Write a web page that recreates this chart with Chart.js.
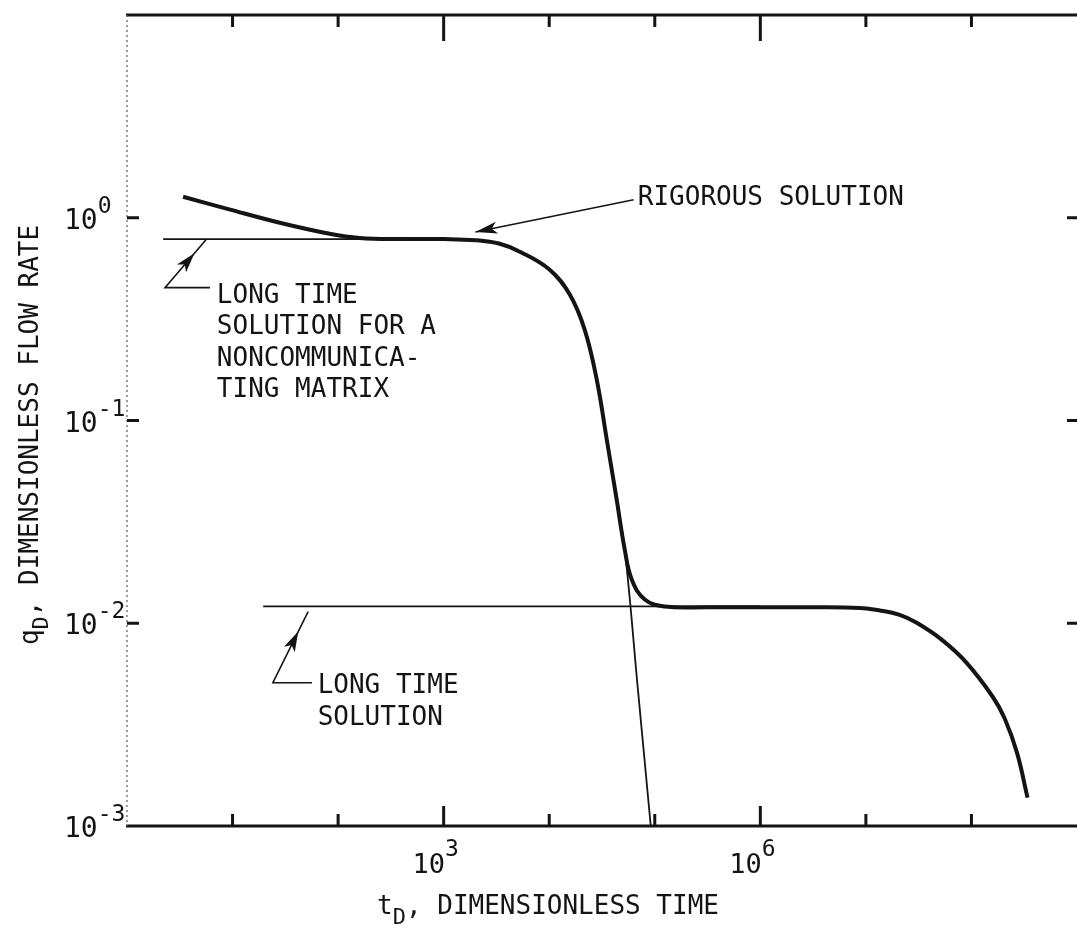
<!DOCTYPE html>
<html>
<head>
<meta charset="utf-8">
<script src="https://cdn.jsdelivr.net/npm/chart.js@4.4.1/dist/chart.umd.min.js"></script>
<style>
  html, body { margin: 0; padding: 0; background: #fff; }
  #wrap { width: 1077px; height: 946px; }
</style>
</head>
<body>
<div id="wrap"><canvas id="flowChart" width="1077" height="946"></canvas></div>
<script>
// rigorous solution, q_D against t_D
var rigorousT = [3.4, 9.3, 28, 83, 160, 400, 1000, 2000, 3400, 5270,
                 1.01e4, 1.57e4, 2.17e4, 2.82e4, 3.51e4, 4.36e4, 5.2e4, 6.06e4, 8.04e4, 1.24e5,
                 3.2e5, 1e6, 3.2e6, 8.73e6, 1.35e7, 2.09e7, 3.03e7, 5.22e7, 9.0e7, 1.59e8, 2.06e8, 2.7e8, 3.4e8];
var rigorousQ = [1.27, 1.10, 0.945, 0.834, 0.795, 0.785, 0.785, 0.775, 0.744, 0.68,
                 0.554, 0.417, 0.28, 0.159, 0.0804, 0.0406, 0.023, 0.0164, 0.0131, 0.0121,
                 0.012, 0.012, 0.012, 0.0119, 0.01157, 0.011, 0.01005, 0.0083, 0.00638, 0.00434, 0.0034, 0.0023, 0.00138];

// long time solution for a noncommunicating matrix
var matrixT = [2.2, 100, 1000, 2000, 3400, 5270, 1.01e4, 1.57e4, 2.17e4, 2.82e4, 3.51e4, 4.36e4, 5.2e4, 6.9e4, 9.16e4];
var matrixQ = [0.785, 0.785, 0.785, 0.775, 0.744, 0.68, 0.554, 0.417, 0.28, 0.159, 0.0804, 0.0406, 0.023, 0.0048, 0.001];

// long time solution
var longT = [19.5, 1e6];
var longQ = [0.0121, 0.0121];

// axis decades
var xTickExp = [1, 2, 3, 4, 5, 6, 7, 8];
var xMajorExp = [3, 6];
var yTickExp = [0, -1, -2];
var yLabelExp = [0, -1, -2, -3];

function pairs(xs, ys) {
  return xs.map(function (v, i) { return { x: v, y: ys[i] }; });
}

var INK = '#141414';
var FONT = '"DejaVu Sans Mono", "Liberation Mono", monospace';

function setFont(ctx, size) { ctx.font = size + 'px ' + FONT; }

// text made of runs with their own size and baseline shift
function drawRich(ctx, parts, x, y, align) {
  var w = 0;
  parts.forEach(function (p) { setFont(ctx, p.size); p.w = ctx.measureText(p.text).width; w += p.w; });
  var cx = align === 'center' ? x - w / 2 : x;
  parts.forEach(function (p) {
    setFont(ctx, p.size);
    ctx.fillText(p.text, cx, y + (p.dy || 0));
    cx += p.w;
  });
}

function arrowHead(ctx, tx, ty, fx, fy, len, half) {
  var a = Math.atan2(ty - fy, tx - fx);
  var c = Math.cos(a), s = Math.sin(a);
  ctx.beginPath();
  ctx.moveTo(tx, ty);
  ctx.lineTo(tx - len * c - half * s, ty - len * s + half * c);
  ctx.lineTo(tx - len * c * 0.75, ty - len * s * 0.75);
  ctx.lineTo(tx - len * c + half * s, ty - len * s - half * c);
  ctx.closePath();
  ctx.fill();
}

var decorations = {
  id: 'decorations',
  afterDatasetsDraw: function (chart) {
    var ctx = chart.ctx, a = chart.chartArea;
    var xs = chart.scales.x, ys = chart.scales.y;
    function px(v) { return xs.getPixelForValue(v); }
    function py(v) { return ys.getPixelForValue(v); }

    ctx.save();
    ctx.strokeStyle = INK;
    ctx.fillStyle = INK;
    ctx.lineCap = 'butt';

    // frame: solid top and bottom, faint dotted left side
    ctx.lineWidth = 3;
    ctx.beginPath();
    ctx.moveTo(a.left - 1, a.top); ctx.lineTo(a.right, a.top);
    ctx.moveTo(a.left - 1, a.bottom); ctx.lineTo(a.right, a.bottom);
    ctx.stroke();
    ctx.save();
    ctx.lineWidth = 1.3;
    ctx.strokeStyle = '#666';
    ctx.setLineDash([2, 3]);
    ctx.beginPath();
    ctx.moveTo(a.left, a.top); ctx.lineTo(a.left, a.bottom);
    ctx.stroke();
    ctx.restore();

    // inward tick marks
    ctx.lineWidth = 3;
    ctx.beginPath();
    xTickExp.forEach(function (e) {
      var x = px(Math.pow(10, e));
      var major = xMajorExp.indexOf(e) >= 0;
      ctx.moveTo(x, a.top); ctx.lineTo(x, a.top + (major ? 26 : 12));
      ctx.moveTo(x, a.bottom); ctx.lineTo(x, a.bottom - (major ? 20 : 12));
    });
    yTickExp.forEach(function (e) {
      var y = py(Math.pow(10, e));
      ctx.moveTo(a.left, y); ctx.lineTo(a.left + 12, y);
      ctx.moveTo(a.right, y); ctx.lineTo(a.right - 10, y);
    });
    ctx.stroke();

    // tick labels
    ctx.textBaseline = 'alphabetic';
    ctx.textAlign = 'left';
    yLabelExp.forEach(function (e) {
      var y = py(Math.pow(10, e));
      drawRich(ctx, [{ text: '10', size: 28 }, { text: String(e), size: 23, dy: -16 }], 64, y + 11, 'left');
    });
    xMajorExp.forEach(function (e) {
      var x = px(Math.pow(10, e));
      drawRich(ctx, [{ text: '10', size: 27 }, { text: String(e), size: 23, dy: -17 }], x - 8, 873, 'center');
    });

    // axis titles
    drawRich(ctx, [{ text: 't', size: 26 }, { text: 'D', size: 22, dy: 10 }, { text: ', DIMENSIONLESS TIME', size: 26 }], 548, 914, 'center');
    ctx.save();
    ctx.translate(38, 435);
    ctx.rotate(-Math.PI / 2);
    drawRich(ctx, [{ text: 'q', size: 26 }, { text: 'D', size: 22, dy: 10 }, { text: ', DIMENSIONLESS FLOW RATE', size: 26 }], 0, 0, 'center');
    ctx.restore();

    // annotation: rigorous solution
    setFont(ctx, 26);
    ctx.fillText('RIGOROUS SOLUTION', px(6.9e4), py(1.15));
    ctx.lineWidth = 1.6;
    ctx.beginPath();
    ctx.moveTo(px(6.3e4), py(1.227));
    ctx.lineTo(px(2.0e3), py(0.85));
    ctx.stroke();
    arrowHead(ctx, px(2.0e3), py(0.85), px(6.3e4), py(1.227), 22, 6);

    // annotation: noncommunicating matrix
    var nx = px(7.1), ny = py(0.381);
    ['LONG TIME', 'SOLUTION FOR A', 'NONCOMMUNICA-', 'TING MATRIX'].forEach(function (line, i) {
      ctx.fillText(line, nx, ny + i * 31.5);
    });
    var k1 = [px(2.29), py(0.452)], t1 = [px(5.6), py(0.779)];
    ctx.beginPath();
    ctx.moveTo(px(6.1), k1[1]); ctx.lineTo(k1[0], k1[1]); ctx.lineTo(t1[0], t1[1]);
    ctx.stroke();
    arrowHead(ctx, k1[0] + (t1[0] - k1[0]) * 0.72, k1[1] + (t1[1] - k1[1]) * 0.72, k1[0], k1[1], 20, 6);

    // annotation: long time solution
    var lx = px(64), ly = py(0.00509) + 10;
    ctx.fillText('LONG TIME', lx, ly);
    ctx.fillText('SOLUTION', lx, ly + 32);
    var k2 = [px(24.1), py(0.00509)], t2 = [px(52), py(0.0114)];
    ctx.beginPath();
    ctx.moveTo(px(56.5), k2[1]); ctx.lineTo(k2[0], k2[1]); ctx.lineTo(t2[0], t2[1]);
    ctx.stroke();
    arrowHead(ctx, k2[0] + (t2[0] - k2[0]) * 0.72, k2[1] + (t2[1] - k2[1]) * 0.72, k2[0], k2[1], 20, 6);

    ctx.restore();
  }
};

new Chart(document.getElementById('flowChart'), {
  type: 'line',
  data: {
    datasets: [
      { label: 'Long time solution', data: pairs(longT, longQ), borderWidth: 1.8, tension: 0 },
      { label: 'Noncommunicating matrix', data: pairs(matrixT, matrixQ), borderWidth: 1.8 },
      { label: 'Rigorous solution', data: pairs(rigorousT, rigorousQ), borderWidth: 4 }
    ]
  },
  options: {
    responsive: false,
    animation: false,
    events: [],
    layout: { padding: { left: 127, right: 0, top: 15, bottom: 120 } },
    elements: {
      line: { borderColor: INK, cubicInterpolationMode: 'default', tension: 0.4, fill: false },
      point: { radius: 0 }
    },
    plugins: { legend: { display: false }, tooltip: { enabled: false } },
    scales: {
      x: { type: 'logarithmic', min: 1, max: 1e9, display: false },
      y: { type: 'logarithmic', min: 1e-3, max: 10, display: false }
    }
  },
  plugins: [decorations]
});
</script>
</body>
</html>
